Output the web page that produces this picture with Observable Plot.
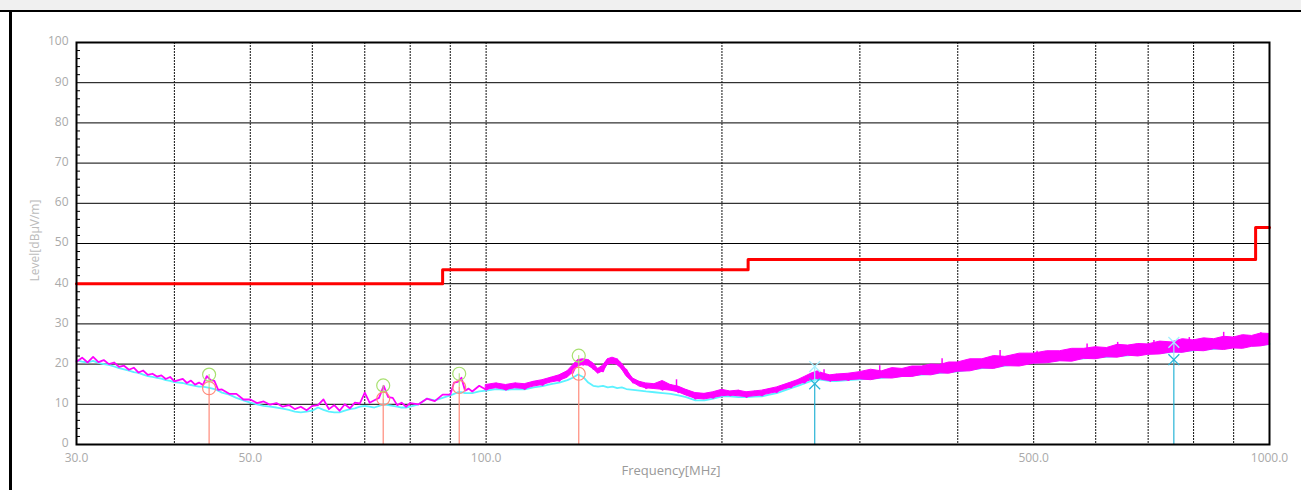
<!DOCTYPE html>
<html>
<head>
<meta charset="utf-8">
<script src="https://cdn.jsdelivr.net/npm/d3@7"></script>
<script src="https://cdn.jsdelivr.net/npm/@observablehq/plot@0.6"></script>
<style>
  html, body { margin: 0; padding: 0; background: #fff; }
  #wrap { position: relative; width: 1301px; height: 490px; overflow: hidden; background: #fff; }
  #chart { position: absolute; left: 0; top: 0; }
  #strip { position: absolute; left: 0; top: 0; width: 1301px; height: 10px; background: #f0f0f0; }
  #topline { position: absolute; left: 0; top: 10px; width: 1301px; height: 2px; background: #000; }
  #leftline { position: absolute; left: 9px; top: 10px; width: 3px; height: 480px; background: #000; }
</style>
</head>
<body>
<div id="wrap">
  <div id="chart"></div>
  <div id="strip"></div>
  <div id="topline"></div>
  <div id="leftline"></div>
</div>
<script>
// Frequency samples (MHz)
const freq = [
  30,30.5,31,31.5,32,32.5,33,33.5,34,34.5,
  35,35.5,36,36.5,37,37.5,38,38.5,39,39.5,
  40,41,41.5,42,42.5,43,43.5,44,44.5,45,
  45.5,46,47,48,49,50,51,52,53,54,
  55,56,57,58,59,60,61,62,63,64,
  65,66,67,68,69,70,71,72,73,74,
  75,76,77,78,79,80,82,84,86,88,
  90,91,92,93,94,95,96,98,100,103,
  106,109,112,115,118,121,124,127,129,131,
  133,135,137,139,141,143,145,147,149,151,
  154,157,160,164,168,172,176,180,185,190,
  195,200,205,210,215,220,225,230,235,240,
  245,250,255,260,265,270,275,280,290,300,
  310,320,330,340,350,360,370,380,390,400,
  415,430,445,460,480,500,520,540,560,580,
  600,620,640,660,680,700,725,750,775,800,
  825,850,875,900,925,950,975,1000
];
// Magenta trace, lower edge of its noise band (dBµV/m)
const magLo = [
  20.6,20.8,20.4,20.9,20.5,20.3,20.0,19.6,19.3,19.0,
  18.6,18.4,17.9,17.6,17.3,17.0,16.9,16.6,16.3,16.0,
  15.7,15.5,15.3,15.1,14.9,14.7,14.8,15.6,16.0,14.6,
  13.6,13.0,12.6,11.9,11.2,10.6,10.3,10.0,9.9,9.6,
  9.4,9.0,8.8,8.7,8.5,8.6,9.8,9.2,8.8,8.6,
  8.4,8.8,9.0,9.2,10.2,11.2,10.4,10.0,11.6,13.2,
  11.8,10.6,9.8,9.6,9.4,9.5,10.0,10.3,10.8,11.3,
  12.4,13.6,15.6,14.8,13.4,13.0,13.2,13.5,13.6,14.0,
  13.6,14.0,13.8,14.4,14.8,15.4,15.8,16.6,17.8,19.4,
  19.8,19.6,18.8,17.6,18.2,19.8,20.2,19.8,18.8,17.0,
  15.4,14.4,14.0,13.8,13.6,13.4,13.0,12.2,11.4,11.2,
  11.6,12.0,12.2,12.0,11.8,12.0,12.2,12.6,13.0,13.6,
  14.2,14.8,15.4,16.0,16.4,16.0,15.8,15.8,16.0,16.2,
  16.0,16.5,16.4,16.8,16.8,17.3,17.2,17.7,17.6,18.1,
  18.2,18.9,18.8,19.5,19.4,20.1,20.2,20.7,20.6,21.3,
  21.2,21.7,21.6,22.1,21.9,22.3,22.4,22.9,22.8,23.3,
  23.2,23.7,23.5,23.9,23.8,24.3,24.4,24.8
];
// Magenta trace, upper edge of its noise band
const magHi = [
  21.4,21.6,21.2,21.8,21.5,21.0,20.7,20.4,20.0,19.6,
  19.4,19.1,18.8,18.4,18.0,17.6,18.0,17.2,17.0,16.8,
  16.5,16.3,16.5,15.9,16.3,15.4,15.8,17.0,17.3,15.8,
  14.2,13.7,13.2,12.6,11.8,11.2,10.9,10.7,10.6,10.3,
  10.1,9.8,9.8,9.4,9.4,9.6,12.6,11.2,10.2,9.8,
  9.4,10.0,10.2,10.4,12.6,12.9,11.6,11.0,13.4,14.6,
  13.2,11.6,10.8,10.4,10.2,10.3,10.8,11.4,11.9,12.4,
  13.8,15.4,17.3,16.6,14.6,13.9,14.2,14.6,14.8,15.2,
  14.8,15.2,15.0,15.6,16.0,16.6,17.2,18.2,19.6,21.0,
  21.2,21.0,20.2,18.8,19.6,21.2,21.6,21.2,20.2,18.6,
  16.4,15.6,15.2,15.0,15.8,14.8,14.4,13.6,12.8,12.6,
  13.0,13.6,13.2,13.4,13.0,13.2,13.4,13.8,14.2,14.8,
  15.4,16.0,16.8,17.6,18.2,17.6,17.2,17.4,17.6,18.0,
  18.6,18.2,19.0,18.8,19.4,19.4,19.9,19.8,20.4,20.4,
  21.2,21.2,22.0,21.8,22.6,22.6,23.2,23.2,23.8,23.8,
  24.2,24.0,24.8,24.6,25.0,24.9,25.6,25.4,26.2,25.9,
  26.4,26.2,26.8,26.6,27.2,27.0,27.6,27.5
];
// Cyan trace
const cyan = [
  20.9,20.6,20.4,20.8,20.3,20.0,19.8,19.4,19.0,18.7,
  18.4,18.0,17.8,17.4,17.0,16.8,16.6,16.4,16.0,15.8,
  15.5,15.3,15.0,14.8,14.6,14.4,14.4,14.2,14.0,13.8,
  13.4,12.9,12.4,11.6,11.0,10.4,10.0,9.6,9.4,9.2,
  8.9,8.6,8.2,8.0,8.2,8.4,9.2,8.6,8.2,8.0,
  8.0,8.4,8.8,9.0,9.4,9.6,9.4,9.2,9.6,10.0,
  9.8,9.6,9.4,9.2,9.2,9.4,10.0,11.4,11.0,11.6,
  12.2,12.6,13.0,13.0,12.8,12.8,12.8,13.2,13.4,13.8,
  13.6,13.8,13.7,14.2,14.5,15.0,15.4,16.0,16.6,17.4,
  16.8,15.4,14.6,14.4,14.6,14.2,14.4,14.0,14.2,13.8,
  13.6,13.4,13.2,13.0,12.8,12.6,12.2,11.8,11.0,11.0,
  11.4,12.0,12.0,11.8,11.8,11.9,12.0,12.4,12.8,13.4,
  14.0,14.6,15.2,15.8,16.2,16.0,15.8,15.8,16.0,16.2,
  16.4,16.6,16.8,17.0,17.2,17.4,17.6,17.8,18.0,18.2,
  18.6,19.0,19.2,19.6,20.0,20.4,20.6,21.0,21.2,21.4,
  21.6,21.8,22.0,22.2,22.4,22.6,22.8,23.0,23.2,23.4,
  23.6,23.8,24.0,24.2,24.4,24.6,24.8,25.0
];
// Isolated spikes on the magenta band
const spikeFreq = [175, 270, 318, 382, 453, 505, 585, 640, 712, 790, 874, 937, 975];
const spikeLo   = [14.0, 16.5, 17.0, 18.6, 20.0, 21.0, 22.5, 23.0, 23.6, 24.0, 25.0, 25.2, 25.5];
const spikeHi   = [16.1, 18.6, 19.6, 21.3, 23.4, 23.2, 25.0, 25.4, 25.9, 26.6, 27.9, 27.1, 27.8];

// Limit line (step)
const limitFreq = [30, 88, 88, 216, 216, 960, 960, 1000];
const limitVal  = [40, 40, 43.5, 43.5, 46, 46, 54, 54];

// Peak markers (red): frequency, QP (salmon circle), peak (green circle)
const redFreq = [44.3, 73.9, 92.4, 131.3];
const redQP   = [14.0, 11.4, 14.3, 17.6];
const redPK   = [17.4, 14.7, 17.6, 22.1];
// Cyan markers
const cyFreq = [262.7, 754.9];
const cyLo   = [15.1, 21.1];
const cyHi   = [19.4, 25.4];

// Axes
const xTickLabels = [30, 50, 100, 500, 1000];
const xGrid = [40, 50, 60, 70, 80, 90, 100, 200, 300, 400, 500, 600, 700, 800, 900];
const yTicks = [0, 10, 20, 30, 40, 50, 60, 70, 80, 90, 100];
const yGrid = [10, 20, 30, 40, 50, 60, 70, 80, 90];
const yMinor = [2,4,6,8,12,14,16,18,22,24,26,28,32,34,36,38,42,44,46,48,52,54,56,58,62,64,66,68,72,74,76,78,82,84,86,88,92,94,96,98];

const rows = freq.map((f, i) => ({f, lo: magLo[i], hi: magHi[i], c: cyan[i], zig: i % 2 ? magHi[i] : magLo[i]}));
const bandRows = rows.filter(d => d.f >= 100);
const zigRows = rows.filter(d => d.f <= 300);
const spikes = spikeFreq.map((f, i) => ({f, lo: spikeLo[i], hi: spikeHi[i]}));
const limit = limitFreq.map((f, i) => ({f, v: limitVal[i]}));
const reds = redFreq.map((f, i) => ({f, qp: redQP[i], pk: redPK[i]}));
const cys = cyFreq.map((f, i) => ({f, lo: cyLo[i], hi: cyHi[i]}));

const chart = Plot.plot({
  width: 1301,
  height: 490,
  marginLeft: 76,
  marginRight: 32,
  marginTop: 42,
  marginBottom: 46,
  style: {fontFamily: "'Open Sans', sans-serif", fontSize: "12px", background: "transparent", color: "#aaa"},
  x: {type: "log", domain: [30, 1000]},
  y: {domain: [0, 100]},
  marks: [
    Plot.gridY(yGrid, {stroke: "#000", strokeOpacity: 1, strokeWidth: 1}),
    Plot.gridX(xGrid, {stroke: "#111", strokeOpacity: 1, strokeWidth: 1, strokeDasharray: "2,1"}),
    Plot.ruleY(yMinor, {stroke: "#000", strokeWidth: 1, insetRight: 1189}),
    Plot.line(rows, {x: "f", y: "c", stroke: "#5cf2ff", strokeWidth: 1.8}),
    Plot.areaY(bandRows, {x: "f", y1: "lo", y2: "hi", fill: "#ff00ff", stroke: "#ff00ff", strokeWidth: 1}),
    Plot.line(zigRows, {x: "f", y: "zig", stroke: "#ff00ff", strokeWidth: 1.8}),
    Plot.ruleX(spikes, {x: "f", y1: "lo", y2: "hi", stroke: "#ff00ff", strokeWidth: 1.5}),
    Plot.line(limit, {x: "f", y: "v", stroke: "#ff0000", strokeWidth: 3}),
    Plot.ruleX(reds, {x: "f", y1: 0, y2: "qp", stroke: "#ff8a7a", strokeWidth: 1.2}),
    Plot.ruleX(reds, {x: "f", y1: "qp", y2: "pk", stroke: "#a8e070", strokeWidth: 1}),
    Plot.dot(reds, {x: "f", y: "pk", r: 6.5, stroke: "#a8e070", fill: "none", strokeWidth: 1.2}),
    Plot.dot(reds, {x: "f", y: "qp", r: 6.5, stroke: "#ff8a7a", fill: "none", strokeWidth: 1.2}),
    Plot.ruleX(cys, {x: "f", y1: 0, y2: "lo", stroke: "#28b4d6", strokeWidth: 1.2}),
    Plot.ruleX(cys, {x: "f", y1: "lo", y2: "hi", stroke: "#9ceaf8", strokeWidth: 1.2}),
    Plot.dot(cys, {x: "f", y: "hi", symbol: "times", r: 5, stroke: "#a6f0ff", strokeWidth: 1.3}),
    Plot.dot(cys, {x: "f", y: "lo", symbol: "times", r: 5, stroke: "#28b4d6", strokeWidth: 1.3}),
    Plot.frame({stroke: "#000", strokeWidth: 2}),
    Plot.axisY(yTicks, {tickSize: 0, tickPadding: 8, label: null, color: "#aaa", fontSize: 12, dy: -1}),
    Plot.axisX(xTickLabels, {tickSize: 0, tickPadding: 9, label: null, color: "#aaa", fontSize: 12, tickFormat: d => d.toFixed(1)}),
    Plot.text(["Level[dBμV/m]"], {frameAnchor: "left", rotate: -90, dx: -41, dy: -3, fill: "#bbb", fontSize: 12, lineAnchor: "middle", textAnchor: "middle"}),
    Plot.text(["Frequency[MHz]"], {frameAnchor: "bottom", dy: 26, dx: -2, fill: "#999", fontSize: 13, lineAnchor: "middle", textAnchor: "middle"})
  ]
});
document.getElementById("chart").appendChild(chart);
</script>
</body>
</html>
